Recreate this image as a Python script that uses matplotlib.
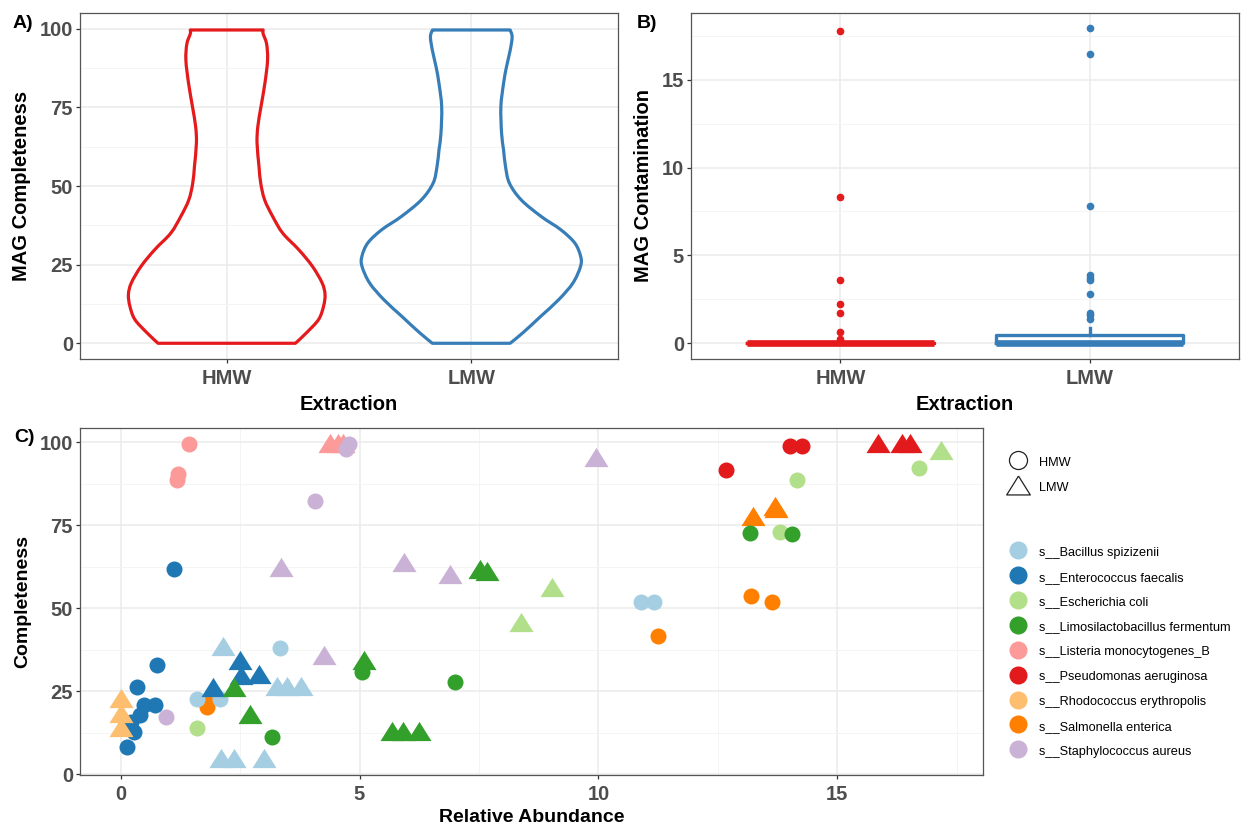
import matplotlib.pyplot as plt
from matplotlib.lines import Line2D
from matplotlib.path import Path
from matplotlib.patches import PathPatch
import numpy as np
import pandas as pd

plt.rcParams['font.family'] = ['Liberation Sans', 'DejaVu Sans']

extractions = ["HMW", "LMW"]
extraction_colors = ["#E41A1C", "#377EB8"]

# A) violin outline, half width (in x units) at completeness levels
violin_hmw_y = [0, 3.4, 7.6, 11.8, 15.5, 19.2, 24.5, 29.8, 35, 40.3, 45.6,
                50.9, 56.2, 63.6, 68.8, 75.2, 82.6, 90, 95.2, 98.4, 99.6]
violin_hmw_w = [0.281, 0.327, 0.376, 0.396, 0.402, 0.390, 0.350, 0.294, 0.229,
                0.188, 0.155, 0.139, 0.132, 0.124, 0.127, 0.140, 0.156, 0.167,
                0.163, 0.149, 0.149]
violin_lmw_y = [0, 3.4, 8.7, 13.9, 19.2, 24.5, 27.7, 31.9, 36.1, 40.3, 45.6,
                50.9, 56.2, 61.5, 66.7, 75.2, 82.6, 87.9, 93.1, 97.4, 99.6]
violin_lmw_w = [0.159, 0.212, 0.286, 0.358, 0.416, 0.447, 0.447, 0.423, 0.366,
                0.286, 0.204, 0.156, 0.140, 0.132, 0.124, 0.121, 0.132, 0.144,
                0.159, 0.167, 0.159]

# B) contamination box stats
contam_q1 = [0, 0]
contam_med = [0, 0]
contam_q3 = [0, 0.47]
contam_whishi = [0, 0.89]
contam_out_hmw = [17.75, 8.31, 3.6, 2.22, 1.70, 0.61, 0.23, 0.12]
contam_out_lmw = [17.93, 16.45, 7.8, 3.86, 3.7, 3.58, 2.78, 1.74, 1.62, 1.40]

# C) species
species_codes = ["BS", "EF", "EC", "LF", "LM", "PA", "RE", "SE", "SA"]
species_names = ["s__Bacillus spizizenii", "s__Enterococcus faecalis",
                 "s__Escherichia coli", "s__Limosilactobacillus fermentum",
                 "s__Listeria monocytogenes_B", "s__Pseudomonas aeruginosa",
                 "s__Rhodococcus erythropolis", "s__Salmonella enterica",
                 "s__Staphylococcus aureus"]
species_colors = ["#A6CEE3", "#1F78B4", "#B2DF8A", "#33A02C", "#FB9A99",
                  "#E31A1C", "#FDBF6F", "#FF7F00", "#CAB2D6"]

mag_species = (["SE"] * 8 + ["BS"] * 12 + ["EF"] * 14 + ["EC"] * 7 +
               ["LF"] * 13 + ["LM"] * 6 + ["PA"] * 6 + ["RE"] * 3 + ["SA"] * 9)
mag_extraction = (["HMW"] * 5 + ["LMW"] * 3 +
                  ["HMW"] * 5 + ["LMW"] * 7 +
                  ["HMW"] * 10 + ["LMW"] * 4 +
                  ["HMW"] * 4 + ["LMW"] * 3 +
                  ["HMW"] * 5 + ["LMW"] * 8 +
                  ["HMW"] * 3 + ["LMW"] * 3 +
                  ["HMW"] * 3 + ["LMW"] * 3 +
                  ["LMW"] * 3 +
                  ["HMW"] * 4 + ["LMW"] * 5)
rel_abundance = [1.78, 1.81, 11.25, 13.19, 13.63, 13.24, 13.70, 13.72,
                 1.60, 2.08, 3.34, 10.89, 11.16, 2.14, 3.28, 3.49, 3.77, 2.11, 2.37, 3.00,
                 1.11, 0.77, 0.35, 0.49, 0.73, 0.40, 0.21, 0.19, 0.28, 0.14, 2.50, 2.51, 2.89, 1.93,
                 1.59, 14.16, 16.71, 13.81, 9.02, 8.37, 17.17,
                 5.06, 3.17, 6.99, 13.17, 14.05, 5.09, 2.37, 2.71, 7.53, 7.66, 5.68, 5.91, 6.24,
                 1.44, 1.20, 1.17, 4.39, 4.55, 4.66,
                 14.00, 14.26, 12.67, 15.85, 16.35, 16.53,
                 0.01, 0.00, 0.00,
                 4.78, 4.71, 4.07, 0.96, 3.35, 5.93, 6.90, 4.26, 9.95]
completeness = [21.9, 20.4, 41.7, 53.7, 52.0, 77.8, 80.8, 80.1,
                22.6, 22.6, 38.0, 51.8, 51.8, 38.6, 26.7, 26.7, 26.7, 5.0, 5.0, 5.0,
                61.9, 32.9, 26.2, 20.9, 20.9, 17.9, 15.8, 13.9, 12.8, 8.3, 34.4, 29.9, 30.2, 26.4,
                13.9, 88.6, 92.3, 73.1, 56.5, 46.0, 97.7,
                30.9, 11.1, 27.7, 72.8, 72.4, 34.4, 26.4, 18.1, 61.7, 61.3, 13.1, 13.1, 13.1,
                99.5, 90.4, 88.6, 99.8, 99.8, 99.8,
                99.0, 99.0, 91.7, 99.7, 99.7, 99.7,
                22.9, 18.4, 14.3,
                99.5, 97.9, 82.3, 17.3, 62.5, 64.0, 60.3, 35.8, 95.7]

mags = pd.DataFrame({"species": mag_species, "extraction": mag_extraction,
                     "abundance": rel_abundance, "completeness": completeness})

tri = [(0, 0.7), (-0.875, -0.7), (0.875, -0.7), (0, 0.7)]
tick_color = "#4D4D4D"
grid_major = "#EBEBEB"
grid_minor = "#F4F4F4"


def style_axes(ax):
    for s in ax.spines.values():
        s.set_color("#555555")
        s.set_linewidth(0.9)
    ax.tick_params(length=3, width=0.9, color="#333333", labelcolor=tick_color,
                   labelsize=14.5, pad=2)
    ax.tick_params(axis="x", pad=4)
    for lab in ax.get_xticklabels() + ax.get_yticklabels():
        lab.set_fontweight("bold")
    ax.grid(True, which="major", color=grid_major, lw=1.1)
    ax.grid(True, which="minor", color=grid_minor, lw=0.7)
    ax.tick_params(which="minor", length=0)
    ax.set_axisbelow(True)


def smooth_side(px, py):
    # cubic bezier segments through the read outline points
    pts = np.column_stack([px, py])
    ext = np.vstack([pts[0], pts, pts[-1]])
    verts, codes = [], []
    for k in range(len(pts) - 1):
        p0, p1, p2, p3 = ext[k], ext[k + 1], ext[k + 2], ext[k + 3]
        verts += [p1 + (p2 - p0) / 6, p2 - (p3 - p1) / 6, p2]
        codes += [Path.CURVE4] * 3
    return verts, codes


fig = plt.figure(figsize=(12.41, 8.27), dpi=100)
W, H = 1241, 827


def add_ax(l, t, r, b):
    return fig.add_axes([l / W, 1 - b / H, (r - l) / W, (b - t) / H])


# ---- A) violin
axA = add_ax(80, 13, 618, 359)
for i, (vy, vw) in enumerate([(violin_hmw_y, violin_hmw_w),
                              (violin_lmw_y, violin_lmw_w)]):
    vy = np.array(vy)
    vw = np.array(vw)
    c = i + 1
    verts = [(c + vw[0], vy[0])]
    codes = [Path.MOVETO]
    v, cd = smooth_side(c + vw, vy)
    verts += v
    codes += cd
    verts.append((c - vw[-1], vy[-1]))
    codes.append(Path.LINETO)
    v, cd = smooth_side((c - vw)[::-1], vy[::-1])
    verts += v
    codes += cd
    verts.append((c + vw[0], vy[0]))
    codes.append(Path.CLOSEPOLY)
    axA.add_patch(PathPatch(Path(verts, codes), facecolor="none",
                            edgecolor=extraction_colors[i], lw=2.3,
                            joinstyle="round"))
axA.set_xlim(0.4, 2.6)
axA.set_ylim(-5, 105)
axA.set_xticks([1, 2])
axA.set_xticklabels(extractions)
axA.set_yticks([0, 25, 50, 75, 100])
axA.set_yticks([12.5, 37.5, 62.5, 87.5], minor=True)
style_axes(axA)
axA.set_xlabel("Extraction", fontsize=14.5, fontweight="bold", labelpad=5)
axA.set_ylabel("MAG Completeness", fontsize=14.5, fontweight="bold", labelpad=6)

# ---- B) boxplot
axB = add_ax(691, 13, 1239, 359)
for i in range(2):
    fl = [contam_out_hmw, contam_out_lmw][i]
    stats = [{"med": contam_med[i], "q1": contam_q1[i], "q3": contam_q3[i],
              "whislo": 0, "whishi": contam_whishi[i], "fliers": fl}]
    c = extraction_colors[i]
    axB.bxp(stats, positions=[i + 1], widths=0.75, showcaps=False,
            boxprops=dict(color=c, lw=2.4),
            whiskerprops=dict(color=c, lw=2.4),
            medianprops=dict(color=c, lw=4.8, solid_capstyle="butt"),
            flierprops=dict(marker="o", markerfacecolor=c, markeredgecolor=c,
                            markersize=4.5))
axB.set_xlim(0.4, 2.6)
axB.set_ylim(-0.9, 18.8)
axB.set_xticks([1, 2])
axB.set_xticklabels(extractions)
axB.set_yticks([0, 5, 10, 15])
axB.set_yticks([2.5, 7.5, 12.5, 17.5], minor=True)
style_axes(axB)
axB.set_xlabel("Extraction", fontsize=14.5, fontweight="bold", labelpad=5)
axB.set_ylabel("MAG Contamination", fontsize=14.5, fontweight="bold", labelpad=6)

# ---- C) scatter
axC = add_ax(80, 428, 983, 775)
for (sp, ex), g in mags.groupby(["species", "extraction"], sort=False):
    col = species_colors[species_codes.index(sp)]
    if ex == "HMW":
        axC.scatter(g["abundance"], g["completeness"], s=133, marker="o",
                    color=col, linewidths=0, zorder=3)
    else:
        axC.scatter(g["abundance"], g["completeness"], s=300, marker=tri,
                    color=col, linewidths=0, zorder=3)
axC.set_xlim(-0.85, 18.05)
axC.set_ylim(-0.2, 104.3)
axC.set_xticks([0, 5, 10, 15])
axC.set_xticks([2.5, 7.5, 12.5, 17.5], minor=True)
axC.set_yticks([0, 25, 50, 75, 100])
axC.set_yticks([12.5, 37.5, 62.5, 87.5], minor=True)
style_axes(axC)
axC.set_xlabel("Relative Abundance", fontsize=14, fontweight="bold", labelpad=4)
axC.set_ylabel("Completeness", fontsize=14, fontweight="bold", labelpad=6)

# legends
leg_kw = dict(loc="upper left", frameon=False, fontsize=9.2, handlelength=1.5,
              handleheight=1.2, handletextpad=0.95, labelspacing=0.86,
              borderpad=0, borderaxespad=0)
shape_handles = [Line2D([], [], ls="none", marker="o", markersize=13,
                        mfc="none", mec="#222222", mew=0.9),
                 Line2D([], [], ls="none", marker=tri, markersize=17,
                        mfc="none", mec="#222222", mew=0.9)]
fig.legend(shape_handles, extractions, bbox_to_anchor=(1008 / W, 1 - 455 / H),
           **leg_kw)
color_handles = [Line2D([], [], ls="none", marker="o", markersize=13,
                        mfc=c, mec=c, mew=0) for c in species_colors]
fig.legend(color_handles, species_names, bbox_to_anchor=(1008 / W, 1 - 545 / H),
           **leg_kw)

for lab, (x, y) in zip(["A)", "B)", "C)"], [(13, 23), (637, 23), (14, 437)]):
    fig.text(x / W, 1 - y / H, lab, fontsize=14, fontweight="bold",
             va="center", ha="left")

fig.savefig("out.png", dpi=100)
